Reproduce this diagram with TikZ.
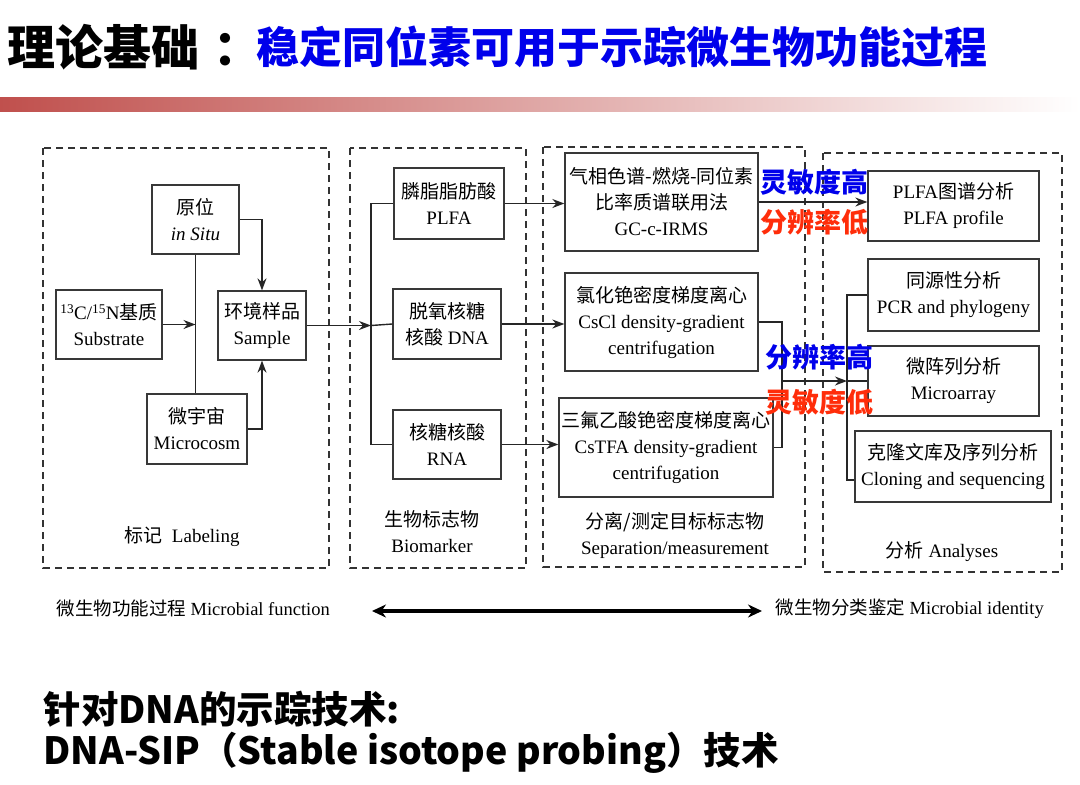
\documentclass[tikz,border=0pt]{standalone}
\usepackage{fontspec}
\setmainfont{Liberation Serif}
\newfontfamily\cjk{Noto Sans CJK SC}
\usetikzlibrary{arrows.meta,calc}
\definecolor{titleblue}{RGB}{0,0,235}
\definecolor{notered}{RGB}{255,45,10}
\definecolor{barred}{RGB}{192,80,77}

\begin{document}
\begin{tikzpicture}[x=1pt, y=-1pt,
  box/.style={draw=black!78, line width=1.3pt, align=center, inner sep=1pt,
    font=\fontsize{19}{26}\selectfont},
  frame/.style={draw=black!80, line width=1.8pt, dash pattern=on 7pt off 5pt},
  link/.style={draw=black!85, line width=1.4pt},
  arr/.style={link, -{Stealth[length=12pt,width=9pt]}},
  remark/.style={font=\cjk\bfseries\fontsize{27}{27}\selectfont},
  caption/.style={align=center, font=\fontsize{19}{26}\selectfont}]
  \useasboundingbox (0,0) rectangle (1080,785);
  % heading and colour bar
  \node[anchor=west, font=\cjk\bfseries\fontsize{48}{48}\selectfont] (heading) at (4,47) {理论基础\hspace{14pt}\makebox[24pt][l]{：}};
  \node[anchor=west, inner sep=0pt, text=titleblue, font=\cjk\bfseries\fontsize{43}{43}\selectfont] (topic) at (256,47) {稳定同位素可用于示踪微生物功能过程};
  \shade[left color=barred, right color=white] (0,97) rectangle (1080,111);
  % dashed stages
  \draw[frame] (43,148) rectangle (329,568);
  \draw[frame] (350,148) rectangle (526,568);
  \draw[frame] (543,147) rectangle (805,567);
  \draw[frame] (823,153) rectangle (1062,572);
  \node[caption] (labeling) at (182,537) {{\cjk 标记}\ \ Labeling};
  \node[caption] (biomarker) at (432,532) {{\cjk 生物标志物}\\Biomarker};
  \node[caption] (separation) at (675,535) {{\cjk 分离/测定目标标志物}\\Separation/measurement};
  \node[caption] (analyses) at (942,552) {{\cjk 分析}\ Analyses};
  % labeling
  \node[box, minimum width=87pt, minimum height=69pt] (insitu) at (195.5,219.5) {{\cjk 原位}\\\textit{in Situ}};
  \node[box, minimum width=106pt, minimum height=69pt] (substrate) at (109,324.5) {\textsuperscript{13}C/\textsuperscript{15}N{\cjk 基质}\\Substrate};
  \node[box, minimum width=88pt, minimum height=69pt] (sample) at (262,325.5) {{\cjk 环境样品}\\Sample};
  \node[box, minimum width=100pt, minimum height=70pt] (microcosm) at (197,429) {{\cjk 微宇宙}\\Microcosm};
  \draw[link] (insitu.south) -- (insitu.south |- microcosm.north);
  \draw[arr] (substrate.east) -- (substrate.east -| insitu.south);
  \draw[arr] (insitu.east) -| (sample.north);
  \draw[arr] (microcosm.east) -| (sample.south);
  % biomarkers
  \node[box, minimum width=110pt, minimum height=71pt] (plfa) at (449,203.5) {{\cjk 膦脂脂肪酸}\\PLFA};
  \node[box, minimum width=108pt, minimum height=70pt] (dna) at (447,324) {{\cjk 脱氧核糖}\\{\cjk 核酸} DNA};
  \node[box, minimum width=108pt, minimum height=69pt] (rna) at (447,444.5) {{\cjk 核糖核酸}\\RNA};
  \coordinate (split) at (371,325.5);
  \draw[arr] (sample.east) -- (split);
  \draw[link] (plfa.west) -| (split) |- (rna.west);
  \draw[link] (split) -- (dna.west);
  % separation
  \node[box, minimum width=193pt, minimum height=98pt] (gc) at (661.5,202) {{\cjk 气相色谱-燃烧-同位素}\\{\cjk 比率质谱联用法}\\GC-c-IRMS};
  \node[box, minimum width=193pt, minimum height=98pt] (cscl) at (661.5,322) {{\cjk 氯化铯密度梯度离心}\\CsCl density-gradient\\centrifugation};
  \node[box, minimum width=214pt, minimum height=99pt] (cstfa) at (666,447.5) {{\cjk 三氟乙酸铯密度梯度离心}\\CsTFA density-gradient\\centrifugation};
  \draw[arr] (plfa.east) -- (plfa.east -| gc.west);
  \draw[arr] (dna.east) -- (dna.east -| cscl.west);
  \draw[arr] (rna.east) -- (rna.east -| cstfa.west);
  % analyses
  \node[box, minimum width=171pt, minimum height=70pt] (profile) at (953.5,206) {PLFA{\cjk 图谱分析}\\PLFA profile};
  \node[box, minimum width=171pt, minimum height=72pt] (pcr) at (953.5,295) {{\cjk 同源性分析}\\PCR and phylogeny};
  \node[box, minimum width=171pt, minimum height=70pt] (microarray) at (953.5,381) {{\cjk 微阵列分析}\\Microarray};
  \node[box, minimum width=196pt, minimum height=71pt] (cloning) at (953,466.5) {{\cjk 克隆文库及序列分析}\\Cloning and sequencing};
  \coordinate (merge) at (782,381);
  \coordinate (tree) at (847,381);
  \coordinate (treeend) at (847,480);
  \draw[arr] (gc.east) -- (gc.east -| profile.west);
  \draw[link] (cscl.east) -| (merge) |- (cstfa.east);
  \draw[arr] (merge) -- (tree);
  \draw[link] (pcr.west) -| (treeend) -- (treeend -| cloning.west);
  \draw[link] (tree) -- (microarray.west);
  % resolution / sensitivity notes
  \node[remark, text=titleblue] (senshigh) at (814,182) {灵敏度高};
  \node[remark, text=notered] (reslow) at (814,222) {分辨率低};
  \node[remark, text=titleblue] (reshigh) at (819,357) {分辨率高};
  \node[remark, text=notered] (senslow) at (819,402) {灵敏度低};
  % function vs identity
  \node[anchor=west, font=\fontsize{18.5}{18}\selectfont] (function) at (53,608) {{\cjk 微生物功能过程} Microbial function};
  \node[anchor=west, font=\fontsize{18.5}{18}\selectfont] (identity) at (772,609) {{\cjk 微生物分类鉴定} Microbial identity};
  \coordinate (la) at (372,611);
  \coordinate (ra) at (762,611);
  \draw[line width=3.5pt, {Stealth[length=14pt,width=13pt]}-{Stealth[length=14pt,width=13pt]}] (la) -- (ra);
  % closing remark
  \node[anchor=west, align=left, font=\cjk\bfseries\fontsize{37.5}{41}\selectfont] (dnasip) at (40,732) {针对DNA的示踪技术:\\DNA-SIP（Stable isotope probing）技术};
\end{tikzpicture}
\end{document}
